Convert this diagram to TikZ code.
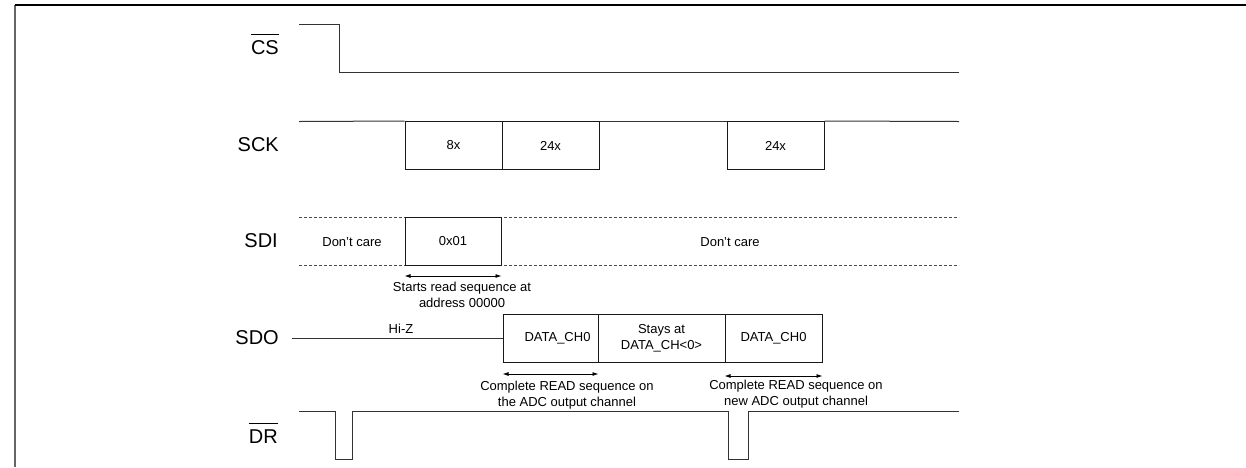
\documentclass[tikz,border=0pt]{standalone}
\usepackage{fontspec}
\setmainfont{Liberation Sans}
\usetikzlibrary{arrows.meta}
\begin{document}
\begin{tikzpicture}[x=1pt,y=-1pt,
  sig/.style={draw=black!80,line width=1pt},
  dashsig/.style={draw=black!70,line width=0.9pt,dash pattern=on 3pt off 2pt},
  box/.style={draw=black!90,line width=1pt,minimum height=48pt,inner sep=0pt,font=\fontsize{13}{16}\selectfont},
  lbl/.style={anchor=east,inner sep=0pt,font=\fontsize{20}{24}\selectfont},
  small/.style={inner sep=0pt,font=\fontsize{13}{16}\selectfont,align=center},
  dim/.style={line width=0.8pt,{Latex[length=6pt,width=4pt]}-{Latex[length=6pt,width=4pt]}}]
\useasboundingbox (0,0) rectangle (1246,467);
% frame
\coordinate (fl) at (15,467);
\coordinate (fc) at (15,5);
\coordinate (fr) at (1246,5);
\draw[draw=black!60,line width=1.2pt] (fl) -- (fc);
\draw[line width=1.2pt] (fc) -- (fr);
% labels
\node[lbl] (lcs) at (279,48) {CS};
\draw[line width=1pt] ([yshift=6.5pt]lcs.north west) -- ([yshift=6.5pt]lcs.north east);
\node[lbl] (lsck) at (279,145) {SCK};
\node[lbl] (lsdi) at (278,241) {SDI};
\node[lbl] (lsdo) at (279,338) {SDO};
\node[lbl] (ldr) at (278,437) {DR};
\draw[line width=1pt] ([yshift=6.5pt]ldr.north west) -- ([yshift=6.5pt]ldr.north east);
% CS
\coordinate (cs0) at (299,24.5);
\coordinate (csf) at (339.5,72.5);
\coordinate (cs1) at (959,72.5);
\draw[sig] (cs0) -| (csf) -- (cs1);
% SCK
\coordinate (sck0) at (299,121.5);
\coordinate (sck1) at (959,121.5);
\node[box,minimum width=97pt] (b8) at (453.5,145.5) {8x};
\node[box,minimum width=97pt] (b24a) at (550.5,145.5) {24x};
\node[box,minimum width=97pt] (b24b) at (775.5,145.5) {24x};
\draw[sig] (sck0) -- (b8.north west);
\draw[sig] (b24a.north east) -- (b24b.north west);
\draw[sig] (b24b.north east) -- (sck1);
% SDI
\coordinate (sdiT0) at (299,217.5);
\coordinate (sdiT1) at (959,217.5);
\coordinate (sdiB0) at (299,265.5);
\coordinate (sdiB1) at (959,265.5);
\draw[dashsig] (sdiT0) -- (sdiT1);
\draw[dashsig] (sdiB0) -- (sdiB1);
\node[box,minimum width=96pt,minimum height=48pt,fill=white] (b01) at (453,241.5) {0x01};
\node[small] (dc1) at (352,242) {Don't care};
\node[small] (dc2) at (730,242) {Don't care};
\draw[dim] ([yshift=-10pt]b01.south west) -- ([yshift=-10pt]b01.south east);
\node[small] (t1) at (462,295) {Starts read sequence at\\address 00000};
% SDO
\coordinate (sdo0) at (292,338.5);
\node[box,minimum width=95pt,text width=95pt,align=center] (d1) at (550.5,338.5) {\hspace*{14pt}DATA\_CH0};
\node[box,minimum width=127pt,align=center] (d2) at (661.5,338.5) {Stays at\\DATA\_CH<0>};
\node[box,minimum width=97pt] (d3) at (773.5,338.5) {DATA\_CH0};
\draw[sig] (sdo0) -- (d1.west);
\node[small] (hz) at (401,329) {Hi-Z};
\draw[dim] ([yshift=-11pt]d1.south west) -- ([yshift=-11pt]d1.south east);
\draw[dim] ([yshift=-13pt]d3.south west) -- ([yshift=-13pt]d3.south east);
\node[small] (t2) at (567,395) {Complete READ sequence on\\the ADC output channel};
\node[small] (t3) at (796,394) {Complete READ sequence on\\new ADC output channel};
% DR
\coordinate (dr0) at (299,411.5);
\coordinate (dr1) at (959,411.5);
\draw[sig] (dr0) -- (335.5,411.5) -- (335.5,459.5) -- (352.5,459.5) -- (352.5,411.5) -- (728.5,411.5) -- (728.5,459.5) -- (748.5,459.5) -- (748.5,411.5) -- (dr1);
\end{tikzpicture}
\end{document}
